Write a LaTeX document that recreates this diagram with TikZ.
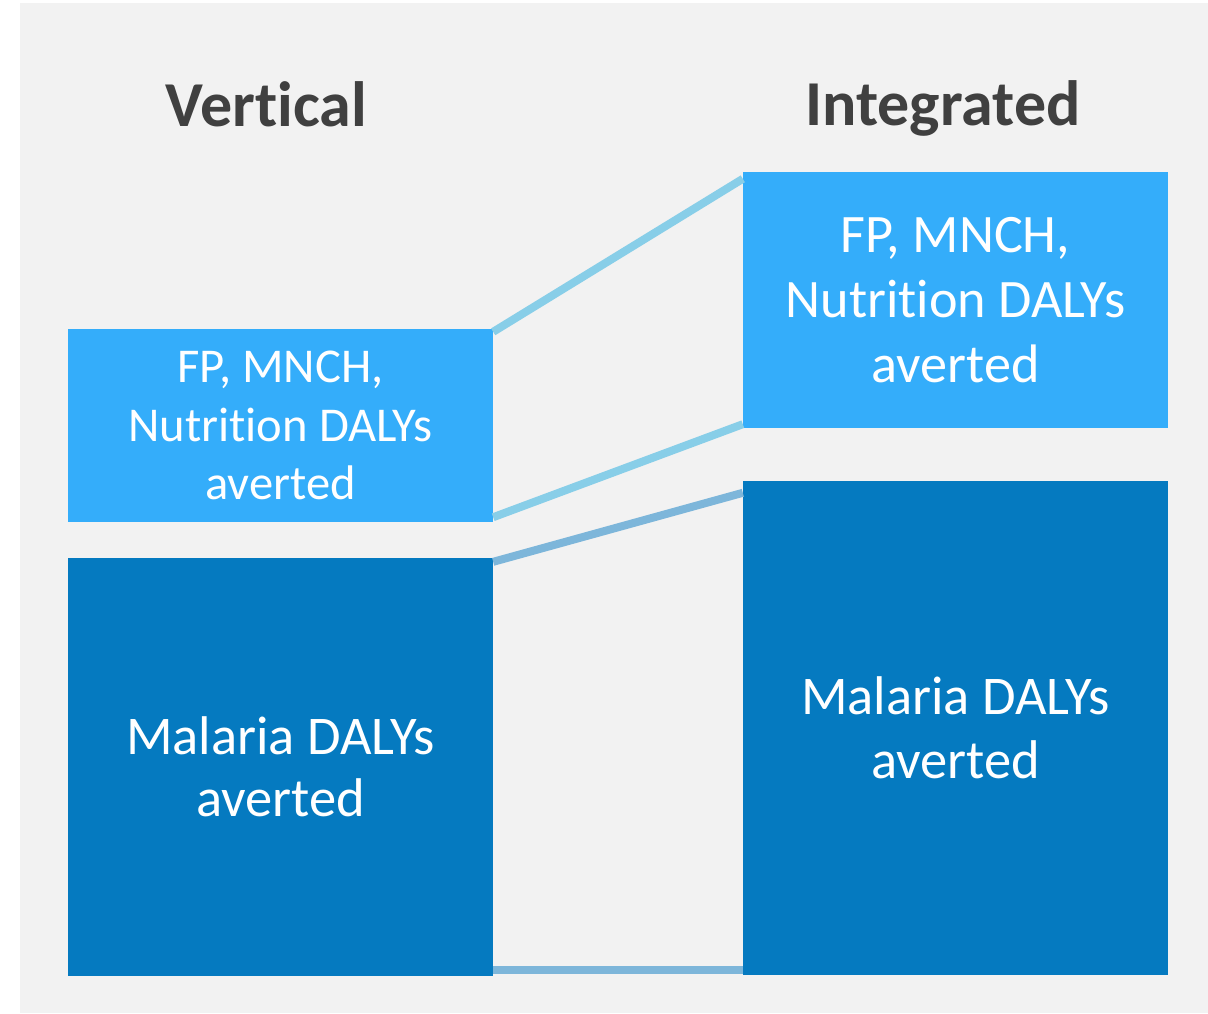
\documentclass[tikz,border=0pt]{standalone}
\usepackage{fontspec}
\setmainfont{Carlito}[Ligatures={NoCommon}]
\definecolor{bgc}{RGB}{242,242,242}
\definecolor{lightbox}{RGB}{52,173,250}
\definecolor{darkbox}{RGB}{5,122,192}
\definecolor{lightline}{RGB}{136,206,232}
\definecolor{darkline}{RGB}{125,182,218}
\definecolor{titlec}{RGB}{64,64,64}
\begin{document}
\begin{tikzpicture}[x=1pt,y=-1pt,
  box/.style={rectangle, inner sep=0pt, text=white, align=center, minimum width=425pt},
  lbox/.style={box, fill=lightbox},
  dbox/.style={box, fill=darkbox},
  ttl/.style={anchor=base, text=titlec, font={\bfseries\fontsize{64}{77}\selectfont}},
  lcon/.style={draw=lightline, line width=8pt},
  dcon/.style={draw=darkline, line width=8pt}]
\useasboundingbox (0,0) rectangle (1208,1013);
\fill[bgc] (20,3) rectangle (1208,1013);

\node[ttl] (tv) at (266.5,126) {Vertical};
\node[ttl] (ti) at (943,125) {Integrated};

\node[lbox, minimum height=193pt, font={\fontsize{48.6}{58.5}\selectfont}] (vfp) at (280.5,425.5) {FP, MNCH,\\Nutrition DALYs\\averted};
\node[dbox, minimum height=418pt, font={\fontsize{54.5}{62.5}\selectfont}] (vmal) at (280.5,767) {Malaria DALYs\\averted};
\node[lbox, minimum height=256pt, font={\fontsize{54.2}{65}\selectfont}] (ifp) at (955.5,300) {FP, MNCH,\\Nutrition DALYs\\averted};
\node[dbox, minimum height=494pt, font={\fontsize{54.5}{63.7}\selectfont}] (imal) at (955.5,728) {Malaria DALYs\\averted};

\draw[lcon] ([yshift=-3pt]vfp.north east) -- ([yshift=-7pt]ifp.north west);
\draw[lcon] ([yshift=5pt]vfp.south east) -- ([yshift=4pt]ifp.south west);
\draw[dcon] ([yshift=-4pt]vmal.north east) -- ([yshift=-12pt]imal.north west);
\draw[dcon] ([yshift=6pt]vmal.south east) -- ([yshift=5pt]imal.south west);
\end{tikzpicture}
\end{document}
